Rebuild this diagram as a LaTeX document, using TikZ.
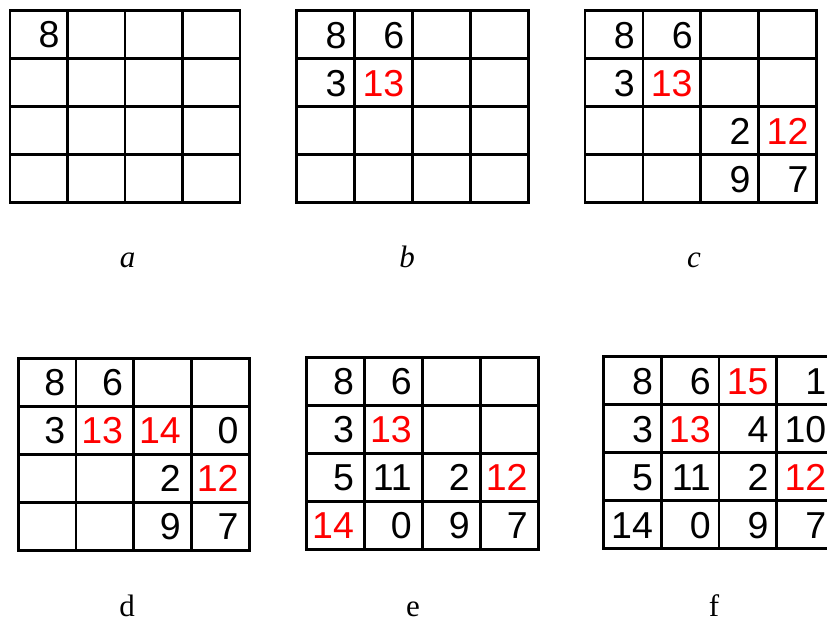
\documentclass[tikz,border=0pt]{standalone}
\usepackage{fontspec}
\setmainfont{Liberation Serif}
\newfontfamily\numfont{Liberation Sans}
\tikzset{
  gridline/.style={line width=2.8pt, draw=black},
  num/.style={font=\numfont\fontsize{37.5}{40}\selectfont, inner sep=0pt, anchor=base east},
  lbl/.style={font=\fontsize{31}{34}\selectfont, inner sep=0pt, anchor=base},
}
% #1 x0, #2 y0, #3 cell width, #4 right padding, #5 name, #6 entries col/row/value/colour
\newcommand\mygrid[6]{%
  \foreach \i in {1,2,3} {
    \draw[gridline] ({#1+\i*#3},#2) -- ({#1+\i*#3},{#2+192});
    \draw[gridline] (#1,{#2+\i*48}) -- ({#1+4*#3},{#2+\i*48});
  }
  \draw[gridline] (#1,#2) rectangle ({#1+4*#3},{#2+192});
  \foreach \c/\r/\v/\k in {#6} {
    \node[num, text=\k] (#5-\c-\r) at ({#1+\c*#3-#4},{#2+\r*48-10.5}) {\v};
  }
}
\begin{document}
\begin{tikzpicture}[x=1pt,y=-1pt]
\path[use as bounding box] (0,0) rectangle (827,623);
\clip (0,0) rectangle (827,623);
\fill[white] (0,0) rectangle (827,623);

\mygrid{10}{10.5}{57.5}{7.8}{ga}{1/1/8/black}
\mygrid{296.7}{10.7}{57.9}{8}{gb}{1/1/8/black,2/1/6/black,1/2/3/black,2/2/13/red}
\mygrid{585}{10.7}{57.9}{8}{gc}{1/1/8/black,2/1/6/black,1/2/3/black,2/2/13/red,3/3/2/black,4/3/12/red,3/4/9/black,4/4/7/black}
\mygrid{18.3}{358.3}{57.75}{10.5}{gd}{1/1/8/black,2/1/6/black,1/2/3/black,2/2/13/red,3/2/14/red,4/2/0/black,3/3/2/black,4/3/12/red,3/4/9/black,4/4/7/black}
\mygrid{306.7}{357.3}{57.9}{10.5}{ge}{1/1/8/black,2/1/6/black,1/2/3/black,2/2/13/red,1/3/5/black,2/3/11/black,3/3/2/black,4/3/12/red,1/4/14/red,2/4/0/black,3/4/9/black,4/4/7/black}
\mygrid{603.3}{356.7}{57.8}{8}{gf}{1/1/8/black,2/1/6/black,3/1/15/red,4/1/1/black,1/2/3/black,2/2/13/red,3/2/4/black,4/2/10/black,1/3/5/black,2/3/11/black,3/3/2/black,4/3/12/red,1/4/14/black,2/4/0/black,3/4/9/black,4/4/7/black}

\node[lbl] (la) at (127.5,267) {\itshape a};
\node[lbl] (lb) at (407,267) {\itshape b};
\node[lbl] (lc) at (694,267) {\itshape c};
\node[lbl] (ld) at (127,616.5) {d};
\node[lbl] (le) at (413,616.5) {e};
\node[lbl] (lf) at (714,616.5) {f};
\end{tikzpicture}
\end{document}
